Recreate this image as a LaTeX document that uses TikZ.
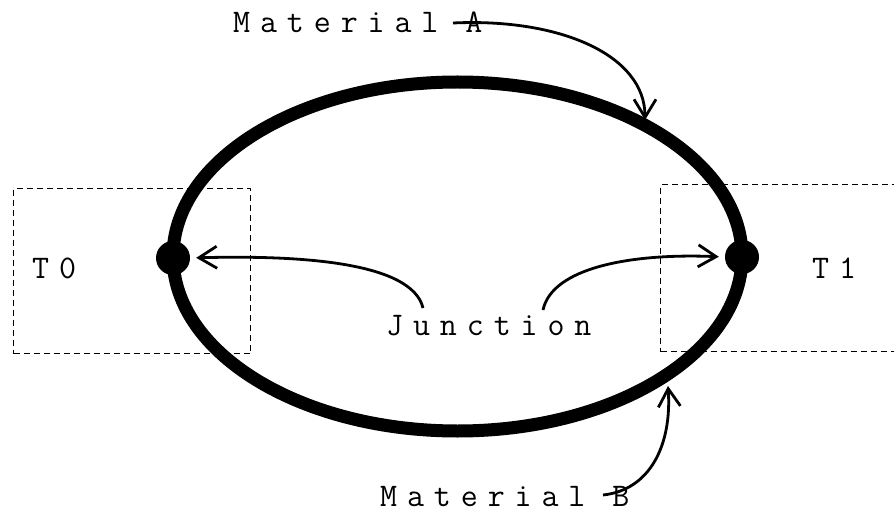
\documentclass[tikz,border=0pt]{standalone}
\usepackage{fontspec}
\setmonofont{Latin Modern Mono}[LetterSpace=30]
\usetikzlibrary{arrows.meta,shapes.geometric}
\begin{document}
\begin{tikzpicture}[x=1pt,y=-1pt,
  lbl/.style={font=\fontsize{33}{35}\selectfont\ttfamily, inner sep=0pt, anchor=base west},
  ptr/.style={line width=2.8pt, -{Straight Barb[length=18pt,width=22pt,line width=2.8pt]}},
  dbox/.style={draw, line width=1.3pt, dash pattern=on 6pt off 4pt, inner sep=0pt, anchor=north west},
  jdot/.style={circle, fill, inner sep=0pt, minimum size=34pt}]
\useasboundingbox (0,0) rectangle (894,513);
\clip (0,0) rectangle (894,513);
\node[dbox, minimum width=237pt, minimum height=165pt] (box0) at (13,188) {};
\node[dbox, minimum width=260pt, minimum height=167pt] (box1) at (660,184) {};
\node[draw, ellipse, line width=13pt, minimum width=569pt, minimum height=349pt, inner sep=0pt] (loop) at (457.5,256.5) {};
\node[jdot] (j0) at (173,258) {};
\node[jdot] (j1) at (742,257) {};
\node[lbl] (t0) at (32,278) {T0};
\node[lbl] (t1) at (812,278) {T1};
\node[lbl] (junc) at (386,335) {Junction};
\node[lbl] (matA) at (233,33) {Material A};
\node[lbl] (matB) at (380,506) {Material B};
\coordinate (aS) at (453,23);
\coordinate (aE) at (645,120);
\coordinate (bS) at (603,495);
\coordinate (bE) at (668,386);
\coordinate (jl) at (423,308);
\coordinate (jr) at (543,310);
\draw[ptr] (aS) .. controls (560,18) and (645,55) .. (aE);
\draw[ptr] (bS) .. controls (650,490) and (672,445) .. (bE);
\draw[ptr, shorten >=6pt] (jl) .. controls (412,262) and (300,255) .. (j0.east);
\draw[ptr, shorten >=6pt] (jr) .. controls (552,268) and (630,253) .. (j1.west);
\end{tikzpicture}
\end{document}
